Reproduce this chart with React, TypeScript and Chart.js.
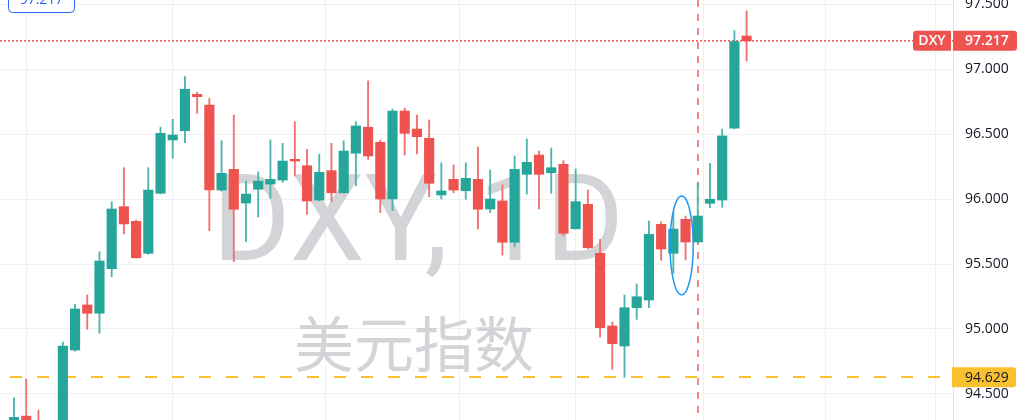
import React, { useEffect, useRef } from "react";
import { Chart, registerables } from "chart.js";

Chart.register(...registerables);

// ---- data ----
const symbol = "DXY";
const interval = "1D";
const nameZh = "美元指数";

const openP = [
  94.25, 94.33, 94.27, 94.1, 94.2, 94.838, 95.185, 95.121, 95.464, 95.941,
  95.828, 95.582, 96.044, 96.454, 96.525, 96.805, 96.723, 96.069, 96.228, 95.969,
  96.075, 96.115, 96.146, 96.305, 96.256, 95.992, 96.218, 96.048, 96.352, 96.552,
  96.436, 96.0, 96.677, 96.538, 96.467, 96.031, 96.151, 96.064, 96.151, 95.923,
  95.985, 95.667, 96.19, 96.338, 96.202, 96.267, 95.771, 95.959, 95.582, 95.023,
  94.869, 95.164, 95.223, 95.805, 95.582, 95.844, 95.669, 95.967, 95.992, 96.544,
  97.254,
];
const highP = [
  94.47, 94.615, 94.377, 94.25, 94.9, 95.19, 95.262, 95.595, 95.979, 96.241,
  95.838, 96.241, 96.552, 96.613, 96.941, 96.821, 96.775, 96.448, 96.646, 96.138,
  96.208, 96.454, 96.428, 96.595, 96.382, 96.344, 96.428, 96.448, 96.595, 96.908,
  96.454, 96.692, 96.698, 96.646, 96.608, 96.279, 96.262, 96.279, 96.402, 96.223,
  96.108, 96.331, 96.462, 96.369, 96.392, 96.295, 96.231, 96.069, 95.69, 95.054,
  95.262, 95.346, 95.831, 95.825, 95.895, 95.869, 96.125, 96.275, 96.538, 97.295,
  97.446,
];
const lowP = [
  94.18, 94.15, 94.1, 94.02, 94.15, 94.83, 94.998, 94.967, 95.402, 95.731,
  95.545, 95.575, 96.04, 96.313, 96.433, 96.659, 95.757, 96.06, 95.518, 95.672,
  95.862, 96.005, 96.128, 96.177, 95.882, 95.985, 95.979, 96.045, 96.102, 96.305,
  95.895, 95.91, 96.338, 96.346, 96.018, 96.0, 96.048, 95.998, 95.767, 95.895,
  95.569, 95.633, 96.038, 95.923, 96.044, 95.715, 95.77, 95.617, 94.938, 94.69,
  94.629, 95.074, 95.164, 95.528, 95.428, 95.531, 95.66, 95.933, 95.936, 96.54,
  97.062,
];
const closeP = [
  94.32, 94.2, 94.15, 94.2, 94.869, 95.154, 95.121, 95.523, 95.923, 95.808,
  95.548, 96.069, 96.505, 96.492, 96.844, 96.787, 96.069, 96.198, 95.921, 96.038,
  96.138, 96.151, 96.292, 96.292, 95.985, 96.205, 96.048, 96.369, 96.562, 96.331,
  96.0, 96.677, 96.505, 96.479, 96.121, 96.062, 96.069, 96.159, 95.921, 96.0,
  95.667, 96.228, 96.282, 96.19, 96.241, 95.736, 95.979, 95.625, 95.01, 94.887,
  95.164, 95.248, 95.728, 95.615, 95.769, 95.669, 95.869, 95.998, 96.485, 97.21,
  97.217,
];
const priceTicks = [94.5, 95, 95.5, 96, 96.5, 97, 97.5];
const timeGridBars = [7, 19, 32, 41, 51, 62, 71];
const lastPrice = 97.217;
const noteLabel = "97.217";
const supportLevel = 94.629;
const markerBar = 56;
const ellipseBars = [53.73, 55.63];
const ellipsePrices = [95.262, 96.023];

// ---- styles ----
const TEAL = "#26a69a";
const RED = "#ef5350";
const TEAL_WICK = "#4db6ac";
const RED_WICK = "#f0716e";
const GRID = "#eef0f4";
const ORANGE = "#fbc02d";
const BLUE = "#2962ff";
const ELLIPSE = "#2196f3";
const WM = "#d3d4d8";
const TEXT = "#131722";
const FONT = "'Open Sans', 'Noto Sans', sans-serif";

const overlayPlugin = {
  id: "overlay",
  beforeDatasetsDraw(chart: any) {
    const { ctx, chartArea: a, scales } = chart;
    const x = scales.x;
    const y = scales.y;
    ctx.save();
    ctx.beginPath();
    ctx.rect(a.left, a.top, a.right - a.left, a.bottom - a.top);
    ctx.clip();

    // watermark
    ctx.fillStyle = WM;
    ctx.textAlign = "center";
    ctx.textBaseline = "alphabetic";
    ctx.font = "120px Roboto";
    ctx.fillText(`${symbol}, ${interval}`, 418, 260);
    ctx.font = "60px 'Noto Sans CJK SC'";
    ctx.textBaseline = "middle";
    ctx.fillText(nameZh, 414, 344);

    // vertical dashed marker
    const mx = Math.round(x.getPixelForValue(markerBar));
    ctx.strokeStyle = "rgba(239,83,80,0.7)";
    ctx.lineWidth = 2;
    ctx.setLineDash([7, 7]);
    ctx.beginPath();
    ctx.moveTo(mx, a.top);
    ctx.lineTo(mx, a.bottom);
    ctx.stroke();

    // support dashed line
    const ys = Math.round(y.getPixelForValue(supportLevel));
    ctx.strokeStyle = ORANGE;
    ctx.lineWidth = 2;
    ctx.setLineDash([12, 15]);
    ctx.lineDashOffset = 17;
    ctx.beginPath();
    ctx.moveTo(a.left, ys);
    ctx.lineTo(a.right - 12, ys);
    ctx.stroke();

    // last price dotted line
    const yl = y.getPixelForValue(lastPrice);
    ctx.strokeStyle = RED;
    ctx.lineWidth = 1.5;
    ctx.setLineDash([2, 2]);
    ctx.lineDashOffset = 0;
    ctx.beginPath();
    ctx.moveTo(a.left, yl);
    ctx.lineTo(a.right, yl);
    ctx.stroke();
    ctx.restore();
  },
  afterDraw(chart: any) {
    const { ctx, chartArea: a, scales } = chart;
    const x = scales.x;
    const y = scales.y;
    ctx.save();

    // ellipse
    const ex0 = x.getPixelForValue(ellipseBars[0]);
    const ex1 = x.getPixelForValue(ellipseBars[1]);
    const ey0 = y.getPixelForValue(ellipsePrices[1]);
    const ey1 = y.getPixelForValue(ellipsePrices[0]);
    ctx.strokeStyle = ELLIPSE;
    ctx.lineWidth = 1.5;
    ctx.beginPath();
    ctx.ellipse((ex0 + ex1) / 2, (ey0 + ey1) / 2, (ex1 - ex0) / 2, (ey1 - ey0) / 2, 0, 0, Math.PI * 2);
    ctx.stroke();

    // last price label
    const yl = y.getPixelForValue(lastPrice);
    ctx.fillStyle = RED;
    ctx.beginPath();
    ctx.roundRect(a.right, yl - 10, 64, 20, [0, 3, 3, 0]);
    ctx.fill();
    ctx.beginPath();
    ctx.roundRect(a.right - 40, yl - 10, 38, 20, [3, 0, 0, 3]);
    ctx.fill();
    ctx.fillStyle = "#ffffff";
    ctx.font = `600 14px ${FONT}`;
    ctx.textBaseline = "middle";
    ctx.textAlign = "center";
    ctx.fillText(symbol, a.right - 21, yl + 0.5);
    ctx.textAlign = "left";
    ctx.fillText(lastPrice.toFixed(3), a.right + 12, yl + 0.5);

    // support label
    const ys = y.getPixelForValue(supportLevel);
    ctx.fillStyle = ORANGE;
    ctx.beginPath();
    ctx.roundRect(a.right - 1, ys - 10, 64, 20, [0, 3, 3, 0]);
    ctx.fill();
    ctx.fillStyle = TEXT;
    ctx.font = `14px ${FONT}`;
    ctx.fillText(supportLevel.toFixed(3), a.right + 12, ys + 0.5);

    // top-left note label (cut off at top)
    ctx.fillStyle = "#ffffff";
    ctx.strokeStyle = BLUE;
    ctx.lineWidth = 1;
    ctx.beginPath();
    ctx.roundRect(8.5, -20, 66, 32.5, 4);
    ctx.fill();
    ctx.stroke();
    ctx.fillStyle = BLUE;
    ctx.textAlign = "center";
    ctx.textBaseline = "alphabetic";
    ctx.font = `14px ${FONT}`;
    ctx.fillText(noteLabel, 41.5, 4);
    ctx.restore();
  },
};

export default function App() {
  const ref = useRef<HTMLCanvasElement>(null);
  useEffect(() => {
    if (!ref.current) return;
    const idx = closeP.map((_, i) => i);
    const up = (i: number) => closeP[i] >= openP[i];
    const chart = new Chart(ref.current, {
      type: "bar",
      data: {
        datasets: [
          {
            label: "body",
            data: idx.map((i) => ({ x: i, y: [openP[i], closeP[i]] })) as any,
            backgroundColor: (c: any) => (up(c.dataIndex) ? TEAL : RED),
            barThickness: 9.5,
            minBarLength: 1,
            grouped: false,
            order: 1,
          } as any,
          {
            label: "wick",
            data: idx.map((i) => ({ x: i, y: [lowP[i], highP[i]] })) as any,
            backgroundColor: (c: any) => (up(c.dataIndex) ? TEAL_WICK : RED_WICK),
            barThickness: 1.2,
            grouped: false,
            order: 2,
          } as any,
        ],
      },
      options: {
        responsive: false,
        animation: false,
        layout: { padding: 0 },
        plugins: { legend: { display: false }, tooltip: { enabled: false } },
        scales: {
          x: {
            type: "linear",
            min: -14 / 12.21,
            max: 939 / 12.21,
            offset: false,
            grid: { color: GRID, drawTicks: false, lineWidth: 1 },
            border: { display: false },
            ticks: { display: false },
            afterBuildTicks: (s: any) => {
              s.ticks = timeGridBars.map((v) => ({ value: v }));
            },
            afterFit: (s: any) => {
              s.height = 0;
              s.paddingLeft = 0;
              s.paddingRight = 0;
            },
          },
          y: {
            type: "linear",
            position: "right",
            min: 94.3,
            max: 97.5 + 4 / 130,
            grid: { color: GRID, drawTicks: false },
            border: { display: true, color: "#e0e3eb" },
            ticks: {
              color: TEXT,
              font: { family: FONT, size: 14 },
              padding: 12,
              crossAlign: "near",
              callback: (v: any) => Number(v).toFixed(3),
            },
            afterBuildTicks: (s: any) => {
              s.ticks = priceTicks.map((v) => ({ value: v }));
            },
            afterFit: (s: any) => {
              s.width = 71;
              s.paddingTop = 0;
              s.paddingBottom = 0;
            },
          },
        },
      } as any,
      plugins: [overlayPlugin],
    });
    return () => chart.destroy();
  }, []);

  return (
    <div style={{ position: "fixed", left: 0, top: 0, width: 1024, height: 420, background: "#fff" }}>
      <canvas ref={ref} width={1024} height={420} style={{ display: "block" }} />
    </div>
  );
}
